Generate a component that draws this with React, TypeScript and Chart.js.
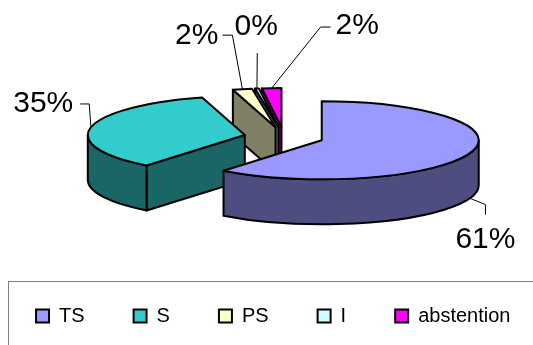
import React, { useEffect, useRef } from 'react';
import { Chart, registerables } from 'chart.js';

Chart.register(...registerables);

// ---- data ----
const categories = ['TS', 'S', 'PS', 'I', 'abstention'];
const values = [61, 35, 2, 0.4, 2];

// ---- styles ----
const topColors = ['#9999FF', '#33CCCC', '#FFFFCC', '#CCFFFF', '#FF00FF'];
const sideColors = ['#4D4D80', '#1A6666', '#808066', '#668080', '#800080'];

const W = 533;
const H = 345;
const CX = 284;
const CY = 137;
const RX = 157;
const RY = 39;
const EXPLODE = 40;
const DEPTH = 45;
const FONT_FAMILY = '"Liberation Sans", Arial, sans-serif';

type LabelStyle = { leader: [number, number][]; text: [number, number]; align: CanvasTextAlign };
const labelStyles: LabelStyle[] = [
  { leader: [[15.6, 6.4], [15.6, 16.4]], text: [15.6, 42], align: 'center' },
  { leader: [[-1.7, -23.3], [-10.7, -23.3]], text: [-17.7, -23.3], align: 'right' },
  { leader: [[-10, -54], [-20, -54]], text: [-24, -53], align: 'right' },
  { leader: [[0.3, -35.4]], text: [-0.7, -61.4], align: 'center' },
  { leader: [[48.9, -61.1], [58.9, -61.1]], text: [63.9, -62.1], align: 'left' },
];

const pie3d = {
  id: 'pie3d',
  beforeDatasetsDraw(chart: any) {
    const ctx: CanvasRenderingContext2D = chart.ctx;
    const meta = chart.getDatasetMeta(0);
    const k = RY / RX;
    const total = values.reduce((a, b) => a + b, 0);
    const slices = meta.data.map((arc: any, i: number) => {
      const { startAngle, endAngle } = arc.getProps(['startAngle', 'endAngle'], true);
      const mid = (startAngle + endAngle) / 2;
      return {
        i,
        a0: startAngle,
        a1: endAngle,
        mid,
        cx: CX + EXPLODE * Math.cos(mid),
        cy: CY + EXPLODE * k * Math.sin(mid),
      };
    });
    const order = [...slices].sort((a, b) => Math.sin(a.mid) - Math.sin(b.mid));

    ctx.save();
    ctx.lineWidth = 2;
    ctx.lineJoin = 'round';
    ctx.strokeStyle = '#000';
    for (const s of order) {
      const side = sideColors[s.i];
      const top = topColors[s.i];
      const px = (a: number) => s.cx + RX * Math.cos(a);
      const py = (a: number) => s.cy + RY * Math.sin(a);
      const cutFace = (a: number) => {
        ctx.beginPath();
        ctx.moveTo(s.cx, s.cy);
        ctx.lineTo(px(a), py(a));
        ctx.lineTo(px(a), py(a) + DEPTH);
        ctx.lineTo(s.cx, s.cy + DEPTH);
        ctx.closePath();
        ctx.fillStyle = side;
        ctx.fill();
        ctx.stroke();
      };
      if (Math.cos(s.a0) < -1e-9) cutFace(s.a0);
      if (Math.cos(s.a1) > 1e-9) cutFace(s.a1);
      const b0 = Math.max(s.a0, 0);
      const b1 = Math.min(s.a1, Math.PI);
      if (b1 > b0) {
        ctx.beginPath();
        ctx.ellipse(s.cx, s.cy, RX, RY, 0, b0, b1);
        ctx.lineTo(px(b1), py(b1) + DEPTH);
        ctx.ellipse(s.cx, s.cy + DEPTH, RX, RY, 0, b1, b0, true);
        ctx.closePath();
        ctx.fillStyle = side;
        ctx.fill();
        ctx.stroke();
      }
      ctx.beginPath();
      ctx.moveTo(s.cx, s.cy);
      ctx.ellipse(s.cx, s.cy, RX, RY, 0, s.a0, s.a1);
      ctx.closePath();
      ctx.fillStyle = top;
      ctx.fill();
      ctx.stroke();
    }

    // labels with leader lines
    ctx.lineWidth = 1;
    ctx.strokeStyle = '#000';
    ctx.fillStyle = '#000';
    ctx.font = `30px ${FONT_FAMILY}`;
    ctx.textBaseline = 'middle';
    for (const s of slices) {
      const st = labelStyles[s.i];
      const front = Math.sin(s.mid) > 0;
      const ax = s.cx + RX * Math.cos(s.mid);
      const ay = s.cy + RY * Math.sin(s.mid) + (front ? DEPTH : 0);
      ctx.beginPath();
      ctx.moveTo(ax, ay);
      for (const [dx, dy] of st.leader) ctx.lineTo(ax + dx, ay + dy);
      ctx.stroke();
      ctx.textAlign = st.align;
      const pct = Math.round((values[s.i] / total) * 100) + '%';
      ctx.fillText(pct, ax + st.text[0], ay + st.text[1]);
    }
    ctx.restore();
    return false;
  },
  afterDraw(chart: any) {
    const ctx: CanvasRenderingContext2D = chart.ctx;
    ctx.save();
    ctx.strokeStyle = '#808080';
    ctx.lineWidth = 1;
    ctx.strokeRect(8.5, 281.5, 700, 200);
    ctx.restore();
  },
};

export default function App() {
  const ref = useRef<HTMLCanvasElement>(null);
  useEffect(() => {
    if (!ref.current) return;
    const chart = new Chart(ref.current, {
      type: 'pie',
      data: {
        labels: categories,
        datasets: [
          {
            data: values,
            backgroundColor: topColors,
            borderColor: '#000',
            borderWidth: 2,
          },
        ],
      },
      options: {
        responsive: false,
        animation: false,
        events: [],
        layout: { padding: { left: -20, right: -33.5, top: 0, bottom: 9 } },
        plugins: {
          tooltip: { enabled: false },
          legend: {
            position: 'bottom',
            labels: {
              boxWidth: 13,
              boxHeight: 13,
              padding: 49,
              color: '#000',
              font: { family: FONT_FAMILY, size: 20 },
            },
          },
        },
      },
      plugins: [pie3d],
    } as any);
    return () => chart.destroy();
  }, []);
  return (
    <div style={{ position: 'absolute', left: 0, top: 0, width: W, height: H, background: '#fff' }}>
      <canvas ref={ref} width={W} height={H} style={{ display: 'block' }} />
    </div>
  );
}
